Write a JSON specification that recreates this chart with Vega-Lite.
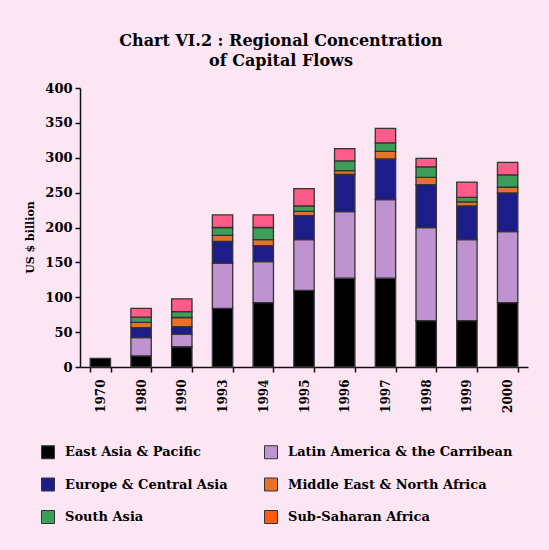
{
  "$schema": "https://vega.github.io/schema/vega-lite/v6.json",
  "autosize": "none",
  "width": 448,
  "height": 279,
  "padding": {"left": 80, "top": 88, "right": 21, "bottom": 183},
  "background": "#fce6f3",
  "config": {
    "font": "DejaVu Serif",
    "view": {"stroke": null},
    "axis": {"domainColor": "#111111", "domainWidth": 1.5, "tickColor": "#111111", "tickWidth": 1.5, "labelColor": "#000000", "labelFontWeight": "bold", "titleFontWeight": "bold", "grid": false}
  },
  "title": {
    "text": ["Chart VI.2 : Regional Concentration", "of Capital Flows"],
    "fontSize": 16,
    "fontWeight": "bold",
    "color": "#000000",
    "anchor": "middle",
    "dx": -23,
    "offset": 13,
    "lineHeight": 20
  },
  "data": {
    "values": [
      {"year": "1970", "region": "East Asia & Pacific", "ord": 1, "value": 12.5},
      {"year": "1980", "region": "East Asia & Pacific", "ord": 1, "value": 16},
      {"year": "1980", "region": "Latin America & the Carribean", "ord": 2, "value": 26},
      {"year": "1980", "region": "Europe & Central Asia", "ord": 3, "value": 14.5},
      {"year": "1980", "region": "Middle East & North Africa", "ord": 4, "value": 7.5},
      {"year": "1980", "region": "South Asia", "ord": 5, "value": 7.4},
      {"year": "1980", "region": "Sub-Saharan Africa", "ord": 6, "value": 12.6},
      {"year": "1990", "region": "East Asia & Pacific", "ord": 1, "value": 29},
      {"year": "1990", "region": "Latin America & the Carribean", "ord": 2, "value": 18},
      {"year": "1990", "region": "Europe & Central Asia", "ord": 3, "value": 11},
      {"year": "1990", "region": "Middle East & North Africa", "ord": 4, "value": 13},
      {"year": "1990", "region": "South Asia", "ord": 5, "value": 8.5},
      {"year": "1990", "region": "Sub-Saharan Africa", "ord": 6, "value": 18.2},
      {"year": "1993", "region": "East Asia & Pacific", "ord": 1, "value": 84},
      {"year": "1993", "region": "Latin America & the Carribean", "ord": 2, "value": 65},
      {"year": "1993", "region": "Europe & Central Asia", "ord": 3, "value": 31},
      {"year": "1993", "region": "Middle East & North Africa", "ord": 4, "value": 8.6},
      {"year": "1993", "region": "South Asia", "ord": 5, "value": 11.4},
      {"year": "1993", "region": "Sub-Saharan Africa", "ord": 6, "value": 18},
      {"year": "1994", "region": "East Asia & Pacific", "ord": 1, "value": 92.4},
      {"year": "1994", "region": "Latin America & the Carribean", "ord": 2, "value": 58.6},
      {"year": "1994", "region": "Europe & Central Asia", "ord": 3, "value": 23},
      {"year": "1994", "region": "Middle East & North Africa", "ord": 4, "value": 8.5},
      {"year": "1994", "region": "South Asia", "ord": 5, "value": 17.5},
      {"year": "1994", "region": "Sub-Saharan Africa", "ord": 6, "value": 18},
      {"year": "1995", "region": "East Asia & Pacific", "ord": 1, "value": 110},
      {"year": "1995", "region": "Latin America & the Carribean", "ord": 2, "value": 72.5},
      {"year": "1995", "region": "Europe & Central Asia", "ord": 3, "value": 34.5},
      {"year": "1995", "region": "Middle East & North Africa", "ord": 4, "value": 6},
      {"year": "1995", "region": "South Asia", "ord": 5, "value": 8},
      {"year": "1995", "region": "Sub-Saharan Africa", "ord": 6, "value": 24.7},
      {"year": "1996", "region": "East Asia & Pacific", "ord": 1, "value": 127.4},
      {"year": "1996", "region": "Latin America & the Carribean", "ord": 2, "value": 95.3},
      {"year": "1996", "region": "Europe & Central Asia", "ord": 3, "value": 53.3},
      {"year": "1996", "region": "Middle East & North Africa", "ord": 4, "value": 5.6},
      {"year": "1996", "region": "South Asia", "ord": 5, "value": 13.9},
      {"year": "1996", "region": "Sub-Saharan Africa", "ord": 6, "value": 17.5},
      {"year": "1997", "region": "East Asia & Pacific", "ord": 1, "value": 127.4},
      {"year": "1997", "region": "Latin America & the Carribean", "ord": 2, "value": 112.6},
      {"year": "1997", "region": "Europe & Central Asia", "ord": 3, "value": 58.4},
      {"year": "1997", "region": "Middle East & North Africa", "ord": 4, "value": 10.6},
      {"year": "1997", "region": "South Asia", "ord": 5, "value": 12.4},
      {"year": "1997", "region": "Sub-Saharan Africa", "ord": 6, "value": 20.6},
      {"year": "1998", "region": "East Asia & Pacific", "ord": 1, "value": 66.5},
      {"year": "1998", "region": "Latin America & the Carribean", "ord": 2, "value": 133.5},
      {"year": "1998", "region": "Europe & Central Asia", "ord": 3, "value": 61.5},
      {"year": "1998", "region": "Middle East & North Africa", "ord": 4, "value": 10.5},
      {"year": "1998", "region": "South Asia", "ord": 5, "value": 15},
      {"year": "1998", "region": "Sub-Saharan Africa", "ord": 6, "value": 12},
      {"year": "1999", "region": "East Asia & Pacific", "ord": 1, "value": 66.5},
      {"year": "1999", "region": "Latin America & the Carribean", "ord": 2, "value": 116},
      {"year": "1999", "region": "Europe & Central Asia", "ord": 3, "value": 48.5},
      {"year": "1999", "region": "Middle East & North Africa", "ord": 4, "value": 5.6},
      {"year": "1999", "region": "South Asia", "ord": 5, "value": 6.7},
      {"year": "1999", "region": "Sub-Saharan Africa", "ord": 6, "value": 21.7},
      {"year": "2000", "region": "East Asia & Pacific", "ord": 1, "value": 92.4},
      {"year": "2000", "region": "Latin America & the Carribean", "ord": 2, "value": 101.6},
      {"year": "2000", "region": "Europe & Central Asia", "ord": 3, "value": 55.5},
      {"year": "2000", "region": "Middle East & North Africa", "ord": 4, "value": 8.2},
      {"year": "2000", "region": "South Asia", "ord": 5, "value": 17.7},
      {"year": "2000", "region": "Sub-Saharan Africa", "ord": 6, "value": 18.1}
    ]
  },
  "mark": {"type": "bar", "stroke": "#333333", "strokeWidth": 1.3},
  "encoding": {
    "x": {
      "field": "year",
      "type": "ordinal",
      "sort": null,
      "scale": {"paddingInner": 0.5, "paddingOuter": 0.25},
      "axis": {"title": null, "labelAngle": -90, "labelFontSize": 12, "tickBand": "extent", "tickSize": 5, "labelPadding": 7}
    },
    "y": {
      "field": "value",
      "type": "quantitative",
      "stack": "zero",
      "scale": {"domain": [0, 400], "nice": false},
      "axis": {"title": "US $ billion", "titleFontSize": 11, "titleX": -45, "titleY": 149, "values": [0, 50, 100, 150, 200, 250, 300, 350, 400], "labelFontSize": 13, "tickSize": 5, "labelPadding": 3}
    },
    "order": {"field": "ord", "type": "quantitative"},
    "color": {
      "condition": {"test": "datum.region === 'Sub-Saharan Africa'", "value": "#ff5c8a"},
      "field": "region",
      "type": "nominal",
      "scale": {
        "domain": ["East Asia & Pacific", "Latin America & the Carribean", "Europe & Central Asia", "Middle East & North Africa", "South Asia", "Sub-Saharan Africa"],
        "range": ["#000000", "#bf93d0", "#1d1d8a", "#e6712a", "#3d9e5a", "#ff5a10"]
      },
      "legend": {
        "title": null,
        "orient": "none",
        "direction": "horizontal",
        "legendX": -39,
        "legendY": 357,
        "columns": 2,
        "columnPadding": 34,
        "rowPadding": 14.5,
        "symbolType": "square",
        "symbolSize": 169,
        "symbolStrokeColor": "#333333",
        "symbolStrokeWidth": 1,
        "labelFontSize": 13,
        "labelFontWeight": "bold",
        "labelColor": "#000000",
        "labelOffset": 10,
        "labelLimit": 300
      }
    }
  }
}
